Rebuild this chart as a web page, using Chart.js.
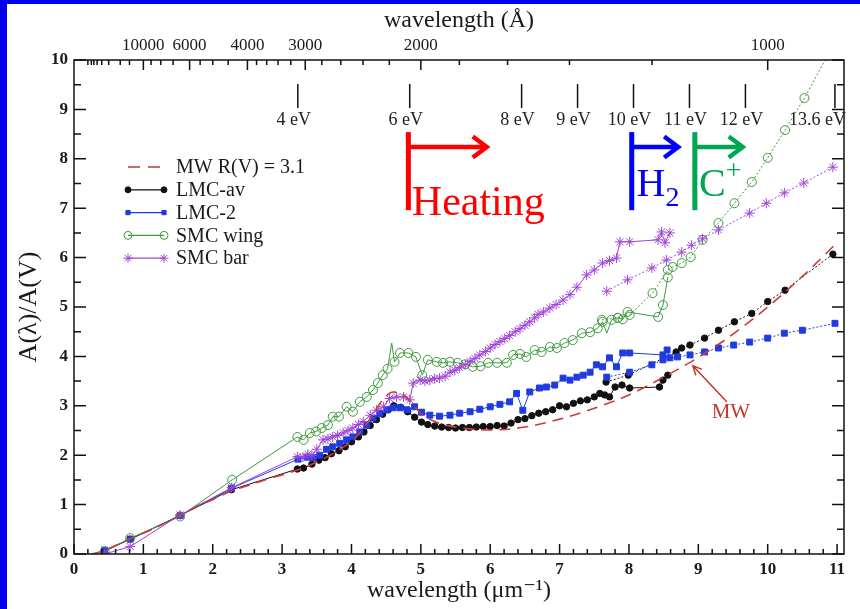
<!DOCTYPE html>
<html>
<head>
<meta charset="utf-8">
<script src="https://cdn.jsdelivr.net/npm/chart.js@4.4.1/dist/chart.umd.min.js"></script>
<style>
  html, body { margin: 0; padding: 0; background: #fff; }
  body { width: 860px; height: 609px; position: relative; overflow: hidden; }
  #frame { position: absolute; left: 0; top: 0; width: 860px; height: 609px; box-sizing: border-box;
           border-left: 7px solid #0000f2; border-top: 4px solid #0000f2; }
  #chart { position: absolute; left: 7px; top: 4px; background: #fff; }
</style>
</head>
<body>
<div id="frame"></div>
<canvas id="chart" width="853" height="605"></canvas>
<script>
const serif = '"Liberation Serif", "DejaVu Serif", serif';

// x = 1/lambda (micron^-1), y = A(lambda)/A(V)
const mwX = [0.25, 0.4, 0.6, 0.8, 1.0, 1.25, 1.5, 1.82, 2.0, 2.27, 2.5, 2.75, 3.0, 3.3, 3.6, 3.9, 4.1, 4.3, 4.45, 4.6, 4.75, 4.9, 5.0, 5.2, 5.5, 5.8, 6.0, 6.5, 7.0, 7.5, 8.0, 8.5, 9.0, 9.5, 10.0, 10.5, 11.0];
const mwY = [0.0, 0.05, 0.17, 0.3, 0.42, 0.58, 0.76, 1.0, 1.1, 1.28, 1.38, 1.5, 1.6, 1.74, 1.93, 2.18, 2.42, 2.8, 3.12, 3.28, 3.22, 3.0, 2.85, 2.68, 2.57, 2.52, 2.51, 2.57, 2.73, 2.95, 3.22, 3.58, 3.98, 4.45, 5.0, 5.62, 6.3];

const lmcAvX = [0.44, 0.81, 1.53, 2.27, 3.22, 3.31, 3.43, 3.53, 3.62, 3.71, 3.82, 3.91, 4.0, 4.1, 4.18, 4.27, 4.36, 4.45, 4.53, 4.61, 4.71, 4.81, 4.91, 5.01, 5.1, 5.2, 5.3, 5.4, 5.5, 5.6, 5.7, 5.8, 5.9, 6.0, 6.1, 6.2, 6.3, 6.4, 6.5, 6.6, 6.7, 6.8, 6.9, 7.0, 7.1, 7.2, 7.3, 7.4, 7.5, 7.58, 7.65, 7.72, 7.8, 7.9, 8.01, 8.44, 8.49, 8.56];
const lmcAvY = [0.06, 0.3, 0.78, 1.3, 1.72, 1.74, 1.82, 1.9, 1.95, 2.03, 2.09, 2.17, 2.27, 2.37, 2.47, 2.6, 2.72, 2.83, 2.92, 3.0, 2.97, 2.88, 2.77, 2.67, 2.62, 2.59, 2.57, 2.56, 2.55, 2.56, 2.56, 2.57, 2.58, 2.58, 2.6, 2.59, 2.65, 2.72, 2.74, 2.8, 2.85, 2.88, 2.92, 3.0, 2.98, 3.05, 3.1, 3.12, 3.18, 3.25, 3.22, 3.18, 3.38, 3.42, 3.36, 3.38, 3.52, 3.62];
const lmcAvFuvX = [7.67, 7.99, 8.68, 8.76, 8.88, 9.09, 9.29, 9.52, 9.77, 10.0, 10.25, 10.94];
const lmcAvFuvY = [3.48, 3.62, 4.09, 4.17, 4.23, 4.37, 4.53, 4.7, 4.87, 5.11, 5.34, 6.07];

const lmc2X = [0.44, 0.81, 1.53, 2.27, 3.23, 3.36, 3.45, 3.54, 3.64, 3.73, 3.83, 3.93, 4.02, 4.12, 4.22, 4.31, 4.41, 4.51, 4.6, 4.7, 4.8, 4.91, 5.01, 5.13, 5.27, 5.42, 5.56, 5.71, 5.85, 6.0, 6.14, 6.28, 6.38, 6.47, 6.57, 6.71, 6.81, 6.93, 7.05, 7.15, 7.25, 7.34, 7.44, 7.53, 7.62, 7.72, 7.82, 7.91, 8.01, 8.49, 8.55, 8.59];
const lmc2Y = [0.08, 0.3, 0.78, 1.33, 1.92, 1.96, 1.95, 2.0, 2.12, 2.17, 2.24, 2.31, 2.37, 2.47, 2.61, 2.75, 2.85, 2.92, 2.96, 2.96, 2.92, 2.98, 2.87, 2.81, 2.79, 2.81, 2.85, 2.88, 2.93, 2.98, 3.03, 3.08, 3.25, 2.91, 3.28, 3.36, 3.38, 3.42, 3.56, 3.52, 3.58, 3.62, 3.68, 3.83, 3.79, 3.97, 3.79, 4.07, 4.07, 4.03, 4.13, 3.97];
const lmc2FuvX = [7.68, 8.01, 8.33, 8.49, 8.7, 8.88, 9.09, 9.29, 9.51, 9.74, 10.0, 10.24, 10.5, 10.97];
const lmc2FuvY = [3.58, 3.68, 3.83, 3.93, 3.99, 4.03, 4.09, 4.17, 4.23, 4.29, 4.37, 4.47, 4.53, 4.67];

const smcWingX = [0.44, 0.81, 1.53, 2.28, 3.22, 3.31, 3.4, 3.49, 3.57, 3.66, 3.73, 3.82, 3.93, 4.02, 4.12, 4.22, 4.31, 4.38, 4.45, 4.52, 4.58, 4.62, 4.7, 4.82, 4.93, 5.02, 5.1, 5.23, 5.32, 5.42, 5.53, 5.64, 5.75, 5.86, 5.97, 6.1, 6.24, 6.33, 6.43, 6.52, 6.64, 6.74, 6.86, 6.96, 7.07, 7.19, 7.32, 7.44, 7.55, 7.62, 7.68, 7.75, 7.84, 7.91, 7.98, 8.42, 8.49, 8.56];
const smcWingY = [0.05, 0.32, 0.76, 1.5, 2.37, 2.31, 2.45, 2.48, 2.55, 2.61, 2.78, 2.78, 2.98, 2.88, 3.08, 3.18, 3.32, 3.46, 3.62, 3.75, 4.27, 3.89, 4.07, 4.07, 3.99, 3.62, 3.93, 3.89, 3.87, 3.89, 3.87, 3.84, 3.79, 3.8, 3.87, 3.87, 3.87, 4.03, 4.05, 3.99, 4.13, 4.09, 4.19, 4.17, 4.27, 4.33, 4.47, 4.49, 4.57, 4.7, 4.47, 4.74, 4.78, 4.75, 4.9, 4.8, 5.04, 5.6];
// points of the SMC wing curve drawn without a marker (narrow spikes)
const smcWingBareX = [4.58, 7.68];
const smcWingFuvX = [7.61, 7.84, 8.01, 8.34, 8.56, 8.63, 8.76, 8.89, 9.06, 9.29, 9.52, 9.77, 10.0, 10.25, 10.53, 11.06];
const smcWingFuvY = [4.74, 4.78, 4.84, 5.28, 5.75, 5.81, 5.89, 6.01, 6.36, 6.7, 7.1, 7.53, 8.02, 8.58, 9.23, 10.6];

const smcBarX = [0.44, 0.81, 1.53, 2.27, 3.22, 3.3, 3.37, 3.43, 3.5, 3.59, 3.66, 3.73, 3.8, 3.88, 3.95, 4.02, 4.1, 4.17, 4.27, 4.36, 4.46, 4.55, 4.65, 4.75, 4.84, 4.89, 4.99, 5.06, 5.13, 5.2, 5.27, 5.35, 5.42, 5.49, 5.56, 5.64, 5.71, 5.78, 5.85, 5.93, 6.0, 6.07, 6.14, 6.21, 6.28, 6.36, 6.43, 6.5, 6.57, 6.64, 6.69, 6.77, 6.86, 6.95, 7.05, 7.15, 7.25, 7.39, 7.5, 7.62, 7.72, 7.82, 7.87, 8.01, 8.42, 8.47, 8.52, 8.59];
const smcBarY = [0.0, 0.15, 0.79, 1.34, 1.97, 1.96, 2.02, 2.0, 2.12, 2.31, 2.33, 2.37, 2.4, 2.45, 2.5, 2.55, 2.62, 2.68, 2.81, 2.91, 2.98, 3.15, 3.18, 3.18, 3.12, 3.46, 3.52, 3.5, 3.52, 3.55, 3.56, 3.6, 3.68, 3.72, 3.77, 3.83, 3.9, 3.96, 4.03, 4.1, 4.17, 4.24, 4.3, 4.36, 4.42, 4.5, 4.56, 4.63, 4.7, 4.78, 4.85, 4.9, 4.98, 5.05, 5.14, 5.25, 5.4, 5.65, 5.75, 5.89, 5.94, 5.99, 6.32, 6.32, 6.36, 6.52, 6.3, 6.5];
const smcBarFuvX = [7.68, 7.98, 8.33, 8.54, 8.76, 8.9, 9.06, 9.29, 9.74, 9.98, 10.24, 10.52, 10.94];
const smcBarFuvY = [5.32, 5.55, 5.79, 5.95, 6.11, 6.25, 6.38, 6.56, 6.9, 7.1, 7.31, 7.51, 7.83];

// top axis: wavelength in Angstrom, eV markers
const topWavelengths = [10000, 6000, 4000, 3000, 2000, 1000];
const topMinorWavelengths = [50000, 40000, 35000, 30000, 25000, 20000, 15000, 12500, 9000, 8000, 7000, 5500, 5000, 4500, 3800, 3600, 3400, 3200, 2800, 2600, 2400, 2200, 1800, 1600, 1400, 1200];
const photonEnergies = [4, 6, 8, 9, 10, 11, 12, 13.6];

const BLACK = '#111111', BLUE = '#1f3be0', GREEN = '#3f9a3f', PURPLE = '#a044d6', MWRED = '#cf3b3b';

const pts = (xs, ys) => xs.map((x, i) => ({x: x, y: ys[i]}));

function series(label, xs, ys, color, pointStyle, radius, hollow, dotted, order) {
  return {
    label: label,
    data: pts(xs, ys),
    showLine: true,
    borderColor: color,
    borderWidth: 1,
    borderDash: dotted ? [2, 2] : [],
    pointStyle: pointStyle,
    pointRadius: radius,
    pointBorderWidth: 1,
    pointBorderColor: color,
    pointBackgroundColor: hollow ? 'rgba(255,255,255,0)' : color,
    order: order
  };
}

const wing = series('SMC wing', smcWingX, smcWingY, GREEN, 'circle', 4.5, true, false, 2);
wing.pointRadius = c => (c.raw && smcWingBareX.includes(c.raw.x)) ? 0 : 4.5;

const datasets = [
  {
    label: 'MW R(V) = 3.1',
    data: pts(mwX, mwY),
    showLine: true,
    borderColor: MWRED,
    borderWidth: 1.6,
    borderDash: [11, 7],
    pointRadius: 0,
    cubicInterpolationMode: 'monotone',
    order: 0
  },
  series('LMC-av', lmcAvX, lmcAvY, BLACK, 'circle', 3.2, false, false, 4),
  series('LMC-av FUV', lmcAvFuvX, lmcAvFuvY, BLACK, 'circle', 3.2, false, true, 4),
  series('LMC-2', lmc2X, lmc2Y, BLUE, 'rect', 4.2, false, false, 3),
  series('LMC-2 FUV', lmc2FuvX, lmc2FuvY, BLUE, 'rect', 4.2, false, true, 3),
  wing,
  series('SMC wing FUV', smcWingFuvX, smcWingFuvY, GREEN, 'circle', 4.5, true, true, 2),
  series('SMC bar', smcBarX, smcBarY, PURPLE, 'star', 5, false, false, 1),
  series('SMC bar FUV', smcBarFuvX, smcBarFuvY, PURPLE, 'star', 5, false, true, 1)
];

// legend entries point at dataset indices
const legendIdx = [0, 1, 3, 5, 7];

const frameTicks = {
  id: 'frameTicks',
  afterDraw(chart) {
    const {ctx, chartArea: a} = chart;
    const xs = chart.scales.x, ys = chart.scales.y;
    const px = v => xs.getPixelForValue(v), py = v => ys.getPixelForValue(v);
    ctx.save();
    ctx.strokeStyle = '#111';
    ctx.lineWidth = 1.5;
    ctx.strokeRect(a.left, a.top, a.right - a.left, a.bottom - a.top);
    ctx.beginPath();
    for (let i = 0; i <= 55; i++) {
      const x = px(i / 5), len = i % 5 === 0 ? 10 : 5;
      ctx.moveTo(x, a.bottom); ctx.lineTo(x, a.bottom - len);
    }
    for (let i = 0; i <= 20; i++) {
      const y = py(i / 2), len = i % 2 === 0 ? 12 : 7;
      ctx.moveTo(a.left, y); ctx.lineTo(a.left + len, y);
      ctx.moveTo(a.right, y); ctx.lineTo(a.right - len, y);
    }
    topWavelengths.forEach(l => { const x = px(10000 / l); ctx.moveTo(x, a.top); ctx.lineTo(x, a.top + 10); });
    topMinorWavelengths.forEach(l => { const x = px(10000 / l); ctx.moveTo(x, a.top); ctx.lineTo(x, a.top + 5); });
    ctx.stroke();

    // photon energy markers
    ctx.font = '18px ' + serif;
    ctx.fillStyle = '#222';
    ctx.textBaseline = 'middle';
    ctx.beginPath();
    photonEnergies.forEach((e, i) => {
      const x = px(e / 1.2398);
      ctx.moveTo(x, a.top + 24); ctx.lineTo(x, a.top + 48);
      const last = i === photonEnergies.length - 1;
      ctx.textAlign = last ? 'right' : 'center';
      ctx.fillText(e + ' eV', last ? a.right + 2 : x - 4, a.top + 60);
    });
    ctx.stroke();
    ctx.restore();
  }
};

function chevronArrow(ctx, x1, y, x2, head) {
  ctx.beginPath();
  ctx.moveTo(x1, y); ctx.lineTo(x2, y);
  ctx.moveTo(x2 - head, y - head * 0.75); ctx.lineTo(x2, y); ctx.lineTo(x2 - head, y + head * 0.75);
  ctx.stroke();
}

const annotations = {
  id: 'annotations',
  afterDraw(chart) {
    const {ctx, chartArea: a} = chart;
    const xs = chart.scales.x, ys = chart.scales.y;
    const px = v => xs.getPixelForValue(v), py = v => ys.getPixelForValue(v);
    ctx.save();
    ctx.lineCap = 'butt';
    ctx.lineJoin = 'miter';

    const markers = [
      {x: 4.82, end: 5.95, color: '#ff0000'},
      {x: 8.04, end: 8.71, color: '#0000ff'},
      {x: 8.95, end: 9.64, color: '#00a651'}
    ];
    markers.forEach(m => {
      ctx.strokeStyle = m.color;
      ctx.lineWidth = 5;
      ctx.beginPath();
      ctx.moveTo(px(m.x), py(8.54)); ctx.lineTo(px(m.x), py(6.96));
      ctx.stroke();
      ctx.lineWidth = 4.5;
      chevronArrow(ctx, px(m.x), py(8.24), px(m.end), 14);
    });

    ctx.textAlign = 'left';
    ctx.textBaseline = 'alphabetic';
    ctx.fillStyle = '#ff0000';
    ctx.font = '42px ' + serif;
    ctx.fillText('Heating', px(4.87), py(6.86));

    ctx.fillStyle = '#0000ff';
    ctx.font = '40px ' + serif;
    let hx = px(8.11);
    ctx.fillText('H', hx, py(7.25));
    hx += ctx.measureText('H').width;
    ctx.font = '28px ' + serif;
    ctx.fillText('2', hx, py(7.05));

    ctx.fillStyle = '#00a651';
    ctx.font = '40px ' + serif;
    let cx = px(9.01);
    ctx.fillText('C', cx, py(7.25));
    cx += ctx.measureText('C').width;
    ctx.font = '28px ' + serif;
    ctx.fillText('+', cx, py(7.6));

    // MW pointer
    ctx.strokeStyle = '#c0392b';
    ctx.fillStyle = '#c0392b';
    ctx.lineWidth = 1.5;
    const x1 = px(9.41), y1 = py(3.08), x2 = px(8.92), y2 = py(3.81);
    const ang = Math.atan2(y2 - y1, x2 - x1);
    ctx.beginPath();
    ctx.moveTo(x1, y1); ctx.lineTo(x2, y2);
    ctx.moveTo(x2 - 10 * Math.cos(ang - 0.45), y2 - 10 * Math.sin(ang - 0.45));
    ctx.lineTo(x2, y2);
    ctx.lineTo(x2 - 10 * Math.cos(ang + 0.45), y2 - 10 * Math.sin(ang + 0.45));
    ctx.stroke();
    ctx.font = '21px ' + serif;
    ctx.textAlign = 'center';
    ctx.fillText('MW', px(9.47), py(2.75));

    // legend
    ctx.textAlign = 'left';
    ctx.textBaseline = 'middle';
    ctx.font = '20px ' + serif;
    legendIdx.forEach((di, i) => {
      const ds = chart.data.datasets[di];
      const y = a.top + 107 + i * 22.8;
      const xa = a.left + 54, xb = a.left + 90;
      ctx.strokeStyle = di === 0 ? '#a8403a' : ds.borderColor;
      ctx.lineWidth = di === 0 ? 1.6 : 1.2;
      ctx.setLineDash(di === 0 ? [12, 8] : []);
      ctx.beginPath(); ctx.moveTo(xa, y); ctx.lineTo(xb, y); ctx.stroke();
      ctx.setLineDash([]);
      if (di !== 0) {
        ctx.fillStyle = ds.pointBackgroundColor;
        ctx.lineWidth = 1;
        const r = di === 5 ? 4 : (di === 7 ? 4.5 : 3);
        const opt = {pointStyle: ds.pointStyle, radius: r, rotation: 0, borderWidth: 1};
        Chart.helpers.drawPoint(ctx, opt, xa, y);
        Chart.helpers.drawPoint(ctx, opt, xb, y);
      }
      ctx.fillStyle = '#1a1a1a';
      ctx.fillText(ds.label, a.left + 102, y + 1);
    });
    ctx.restore();
  }
};

const tickFont = {family: serif, size: 17, weight: 'bold'};

const chart = new Chart(document.getElementById('chart').getContext('2d'), {
  type: 'scatter',
  data: {datasets: datasets},
  options: {
    responsive: false,
    animation: false,
    layout: {padding: {left: 0, right: 16, top: 0, bottom: 0}},
    plugins: {legend: {display: false}, tooltip: {enabled: false}},
    scales: {
      x: {
        type: 'linear', position: 'bottom', min: 0, max: 11.1,
        grid: {display: false, drawTicks: false}, border: {display: false},
        afterBuildTicks: s => { s.ticks = [0,1,2,3,4,5,6,7,8,9,10,11].map(v => ({value: v})); },
        afterFit: s => { s.height = 55; },
        ticks: {font: tickFont, color: '#1a1a1a', padding: 5, maxRotation: 0, autoSkip: false},
        title: {display: true, text: 'wavelength (μm⁻¹)', font: {family: serif, size: 24}, color: '#1a1a1a', padding: {top: 0, bottom: 4}}
      },
      x2: {
        type: 'linear', position: 'top', min: 0, max: 11.1,
        grid: {display: false, drawTicks: false}, border: {display: false},
        afterBuildTicks: s => { s.ticks = topWavelengths.map(l => ({value: 10000 / l})); },
        afterFit: s => { s.height = 56; },
        ticks: {font: {family: serif, size: 17}, color: '#1a1a1a', padding: 4, maxRotation: 0, autoSkip: false,
                callback: (v, i) => String(topWavelengths[i])},
        title: {display: true, text: 'wavelength (Å)', font: {family: serif, size: 24}, color: '#1a1a1a', padding: {top: 2, bottom: 0}}
      },
      y: {
        type: 'linear', position: 'left', min: 0, max: 10,
        grid: {display: false, drawTicks: false}, border: {display: false},
        afterFit: s => { s.width = 67; },
        ticks: {stepSize: 1, font: tickFont, color: '#1a1a1a', padding: 6},
        title: {display: true, text: 'A(λ)/A(V)', font: {family: serif, size: 26}, color: '#1a1a1a', padding: {top: 7, bottom: 0}}
      }
    }
  },
  plugins: [frameTicks, annotations]
});
</script>
</body>
</html>
